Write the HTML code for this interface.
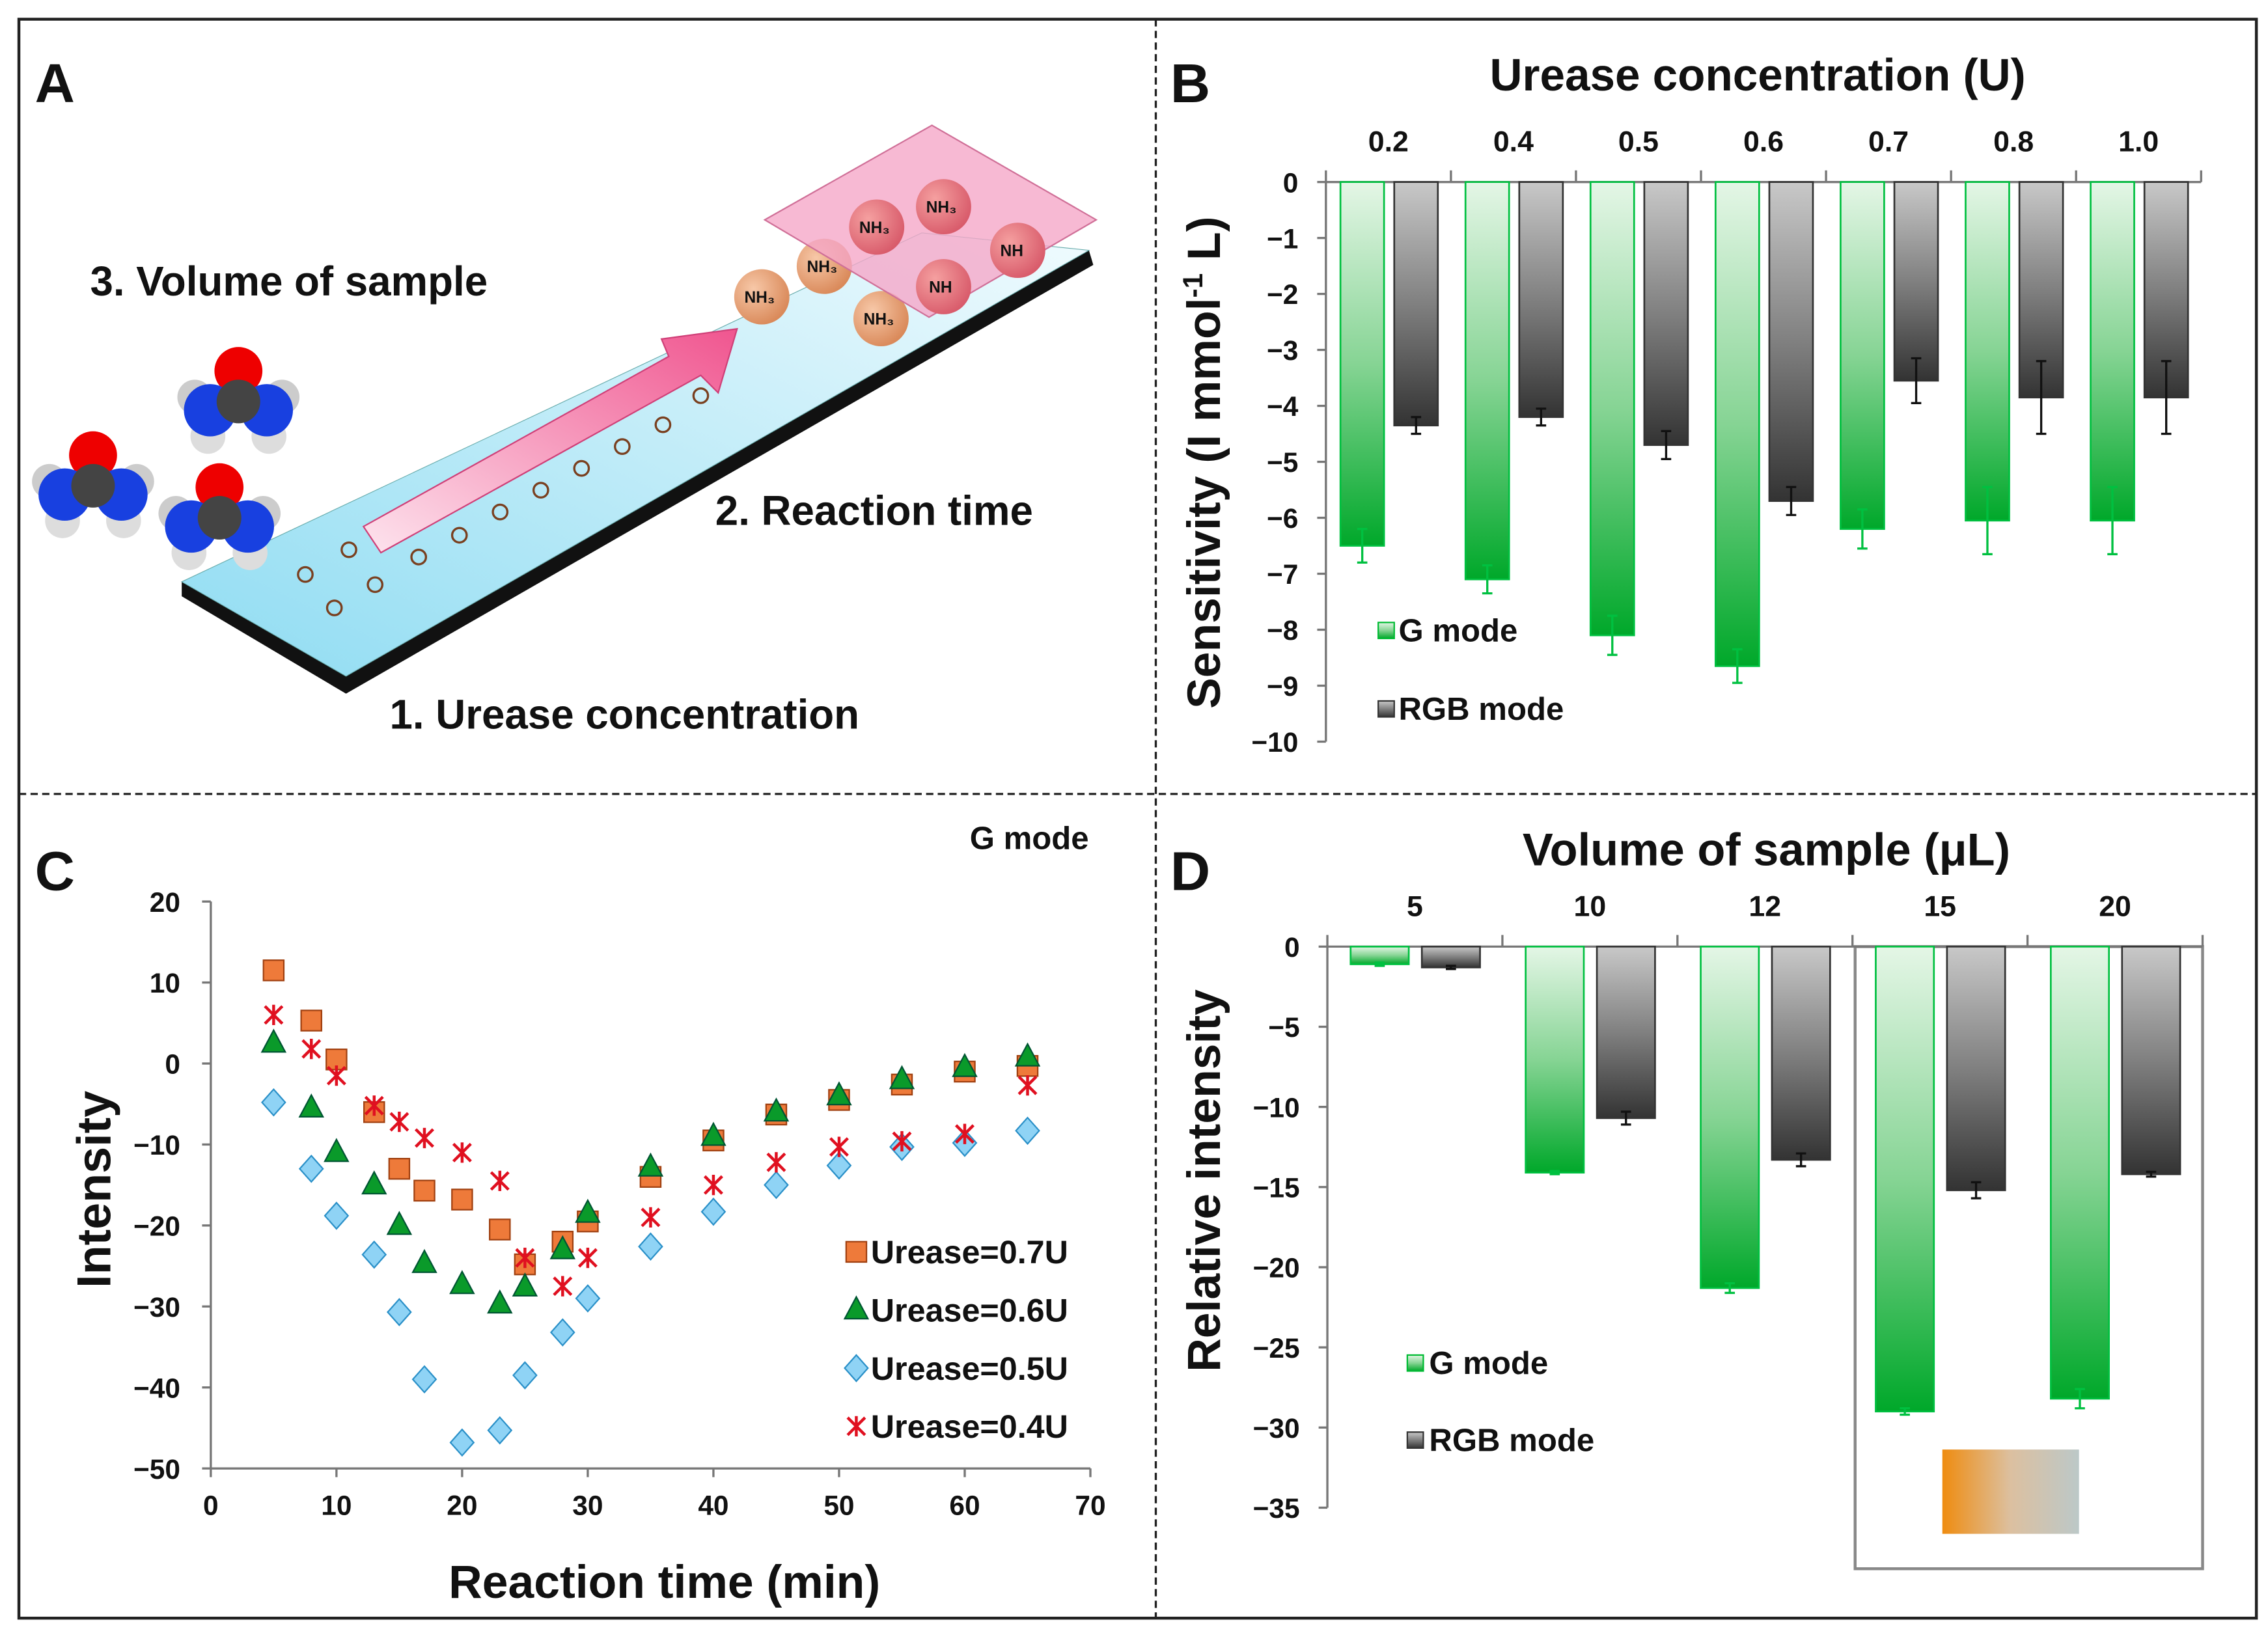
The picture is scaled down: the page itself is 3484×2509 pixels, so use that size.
<!DOCTYPE html>
<html><head><meta charset="utf-8"><style>
html,body{margin:0;padding:0;background:#fff}
svg{display:block}
text{font-family:"Liberation Sans",sans-serif;font-weight:bold;fill:#111}
</style></head><body>
<svg id="fig" width="3484" height="2509" viewBox="0 0 1560 1123" xmlns="http://www.w3.org/2000/svg">
<defs>
<linearGradient id="gG" x1="0" y1="0" x2="0" y2="1"><stop offset="0" stop-color="#e4f6e6"/><stop offset="0.5" stop-color="#86d494"/><stop offset="1" stop-color="#00a82a"/></linearGradient>
<linearGradient id="gK" x1="0" y1="0" x2="0" y2="1"><stop offset="0" stop-color="#c8c8c8"/><stop offset="0.5" stop-color="#808080"/><stop offset="1" stop-color="#333"/></linearGradient>
<linearGradient id="slab" x1="0" y1="1" x2="1" y2="0"><stop offset="0" stop-color="#8fdcf2"/><stop offset="1" stop-color="#f0fbfe"/></linearGradient>
<linearGradient id="arr" x1="0" y1="1" x2="1" y2="0"><stop offset="0" stop-color="#fde4ee"/><stop offset="1" stop-color="#f0558f"/></linearGradient>
<linearGradient id="inset" x1="0" y1="0" x2="1" y2="0"><stop offset="0" stop-color="#ef8c10"/><stop offset="0.5" stop-color="#dcc0a0"/><stop offset="1" stop-color="#bcc8c8"/></linearGradient>
<radialGradient id="ballO" cx="0.35" cy="0.35" r="0.7"><stop offset="0" stop-color="#f7c8a8"/><stop offset="1" stop-color="#d98858"/></radialGradient>
<radialGradient id="ballP" cx="0.35" cy="0.35" r="0.7"><stop offset="0" stop-color="#f5a0a0"/><stop offset="1" stop-color="#d85a6a"/></radialGradient>
</defs>
<rect x="13" y="13" width="1539" height="1100" fill="none" stroke="#222" stroke-width="2"/>
<line x1="795" y1="13" x2="795" y2="1113" stroke="#222" stroke-width="1.5" stroke-dasharray="5,3"/>
<line x1="13" y1="546" x2="1552" y2="546" stroke="#222" stroke-width="1.5" stroke-dasharray="5,3"/>

<!-- Panel A -->
<g>
<text x="24" y="70" font-size="38">A</text>
<polygon points="125,400 238,465 749,172 752,182 238,477 125,410" fill="#111"/>
<polygon points="125,400 634,160 749,172 238,465" fill="url(#slab)" stroke="#6aa" stroke-width="0.5"/>
<g fill="none" stroke="#7a4020" stroke-width="1.5">
<circle cx="210" cy="395" r="5"/><circle cx="240" cy="378" r="5"/><circle cx="230" cy="418" r="5"/><circle cx="258" cy="402" r="5"/>
<circle cx="288" cy="383" r="5"/><circle cx="316" cy="368" r="5"/><circle cx="344" cy="352" r="5"/><circle cx="372" cy="337" r="5"/><circle cx="400" cy="322" r="5"/><circle cx="428" cy="307" r="5"/><circle cx="456" cy="292" r="5"/><circle cx="482" cy="272" r="5"/>
</g>
<polygon points="250,362 460,245 455,233 507,226 494,270 482,258 262,380" fill="url(#arr)" stroke="#d04078" stroke-width="1"/>
<g font-size="11">
<circle cx="524" cy="204" r="19" fill="url(#ballO)"/><text x="512" y="208" font-weight="normal">NH₃</text>
<circle cx="567" cy="183" r="19" fill="url(#ballO)"/><text x="555" y="187" font-weight="normal">NH₃</text>
<circle cx="606" cy="219" r="19" fill="url(#ballO)"/><text x="594" y="223" font-weight="normal">NH₃</text>
</g>
<polygon points="526,151 641,86 754,151 639,218" fill="#f5a8c8" fill-opacity="0.8" stroke="#d07098"/>
<g font-size="11">
<circle cx="603" cy="156" r="19" fill="url(#ballP)"/><text x="591" y="160" font-weight="normal">NH₃</text>
<circle cx="649" cy="142" r="19" fill="url(#ballP)"/><text x="637" y="146" font-weight="normal">NH₃</text>
<circle cx="649" cy="197" r="19" fill="url(#ballP)"/><text x="639" y="201" font-weight="normal">NH</text>
<circle cx="700" cy="172" r="19" fill="url(#ballP)"/><text x="688" y="176" font-weight="normal">NH</text>
</g>
<g>
<g transform="translate(64,340) scale(1.5)"><circle cx="0" cy="-18" r="11" fill="#e00"/><circle cx="-20" cy="-6" r="8" fill="#ccc"/><circle cx="20" cy="-6" r="8" fill="#ccc"/><circle cx="-14" cy="12" r="8" fill="#ddd"/><circle cx="14" cy="12" r="8" fill="#ddd"/><circle cx="-13" cy="0" r="12" fill="#1840e0"/><circle cx="13" cy="0" r="12" fill="#1840e0"/><circle cx="0" cy="-4" r="10" fill="#444"/></g>
<g transform="translate(164,282) scale(1.5)"><circle cx="0" cy="-18" r="11" fill="#e00"/><circle cx="-20" cy="-6" r="8" fill="#ccc"/><circle cx="20" cy="-6" r="8" fill="#ccc"/><circle cx="-14" cy="12" r="8" fill="#ddd"/><circle cx="14" cy="12" r="8" fill="#ddd"/><circle cx="-13" cy="0" r="12" fill="#1840e0"/><circle cx="13" cy="0" r="12" fill="#1840e0"/><circle cx="0" cy="-4" r="10" fill="#444"/></g>
<g transform="translate(151,362) scale(1.5)"><circle cx="0" cy="-18" r="11" fill="#e00"/><circle cx="-20" cy="-6" r="8" fill="#ccc"/><circle cx="20" cy="-6" r="8" fill="#ccc"/><circle cx="-14" cy="12" r="8" fill="#ddd"/><circle cx="14" cy="12" r="8" fill="#ddd"/><circle cx="-13" cy="0" r="12" fill="#1840e0"/><circle cx="13" cy="0" r="12" fill="#1840e0"/><circle cx="0" cy="-4" r="10" fill="#444"/></g>
</g>
<text x="62" y="203" font-size="28.5">3. Volume of sample</text>
<text x="492" y="361" font-size="28.5">2. Reaction time</text>
<text x="268" y="501" font-size="28.5">1. Urease concentration</text>
</g>

<!-- Panel B -->
<g id="pb">
<text x="805" y="70" font-size="38">B</text>
<text x="1209" y="62" font-size="31" text-anchor="middle">Urease concentration (U)</text>
<text transform="translate(839,318) rotate(-90)" font-size="32" text-anchor="middle">Sensitivity (I mmol<tspan font-size="19" dy="-12">-1</tspan><tspan dy="12"> L)</tspan></text>
<rect x="948" y="428" width="11" height="11" fill="url(#gG)" stroke="#0b3"/>
<text x="962" y="441" font-size="22">G mode</text>
<rect x="948" y="482" width="11" height="11" fill="url(#gK)" stroke="#333"/>
<text x="962" y="495" font-size="22">RGB mode</text>
</g>

<!-- Panel C -->
<g id="pc">
<text x="24" y="612" font-size="38">C</text>
<text x="708" y="584" font-size="22" text-anchor="middle">G mode</text>
<text x="457" y="1099" font-size="32" text-anchor="middle">Reaction time (min)</text>
<text transform="translate(76,818) rotate(-90)" font-size="33" text-anchor="middle">Intensity</text>
</g>

<!-- Panel D -->
<g id="pd">
<text x="805" y="612" font-size="38">D</text>
<text x="1215" y="595" font-size="31.5" text-anchor="middle">Volume of sample (μL)</text>
<text transform="translate(839,812) rotate(-90)" font-size="32" text-anchor="middle">Relative intensity</text>
<rect x="1276" y="651" width="239" height="428" fill="none" stroke="#888" stroke-width="2"/>
<rect x="1336" y="997" width="94" height="58" fill="url(#inset)"/>
<rect x="968" y="932" width="11" height="11" fill="url(#gG)" stroke="#0b3"/>
<text x="983" y="945" font-size="22">G mode</text>
<rect x="968" y="985" width="11" height="11" fill="url(#gK)" stroke="#333"/>
<text x="983" y="998" font-size="22">RGB mode</text>
</g>
</svg>
<script>
// Panel B data
const bCategories = ["0.2","0.4","0.5","0.6","0.7","0.8","1.0"];
const bGValues = [-6.5,-7.1,-8.1,-8.65,-6.2,-6.05,-6.05];
const bGErrors = [0.3,0.25,0.35,0.3,0.35,0.6,0.6];
const bRGBValues = [-4.35,-4.2,-4.7,-5.7,-3.55,-3.85,-3.85];
const bRGBErrors = [0.15,0.15,0.25,0.25,0.4,0.65,0.65];
const bTicks = [0,-1,-2,-3,-4,-5,-6,-7,-8,-9,-10];
// Panel C data
const cTimes = [5,8,10,13,15,17,20,23,25,28,30,35,40,45,50,55,60,65];
const c07 = [11.5,5.3,0.5,-6,-13,-15.7,-16.8,-20.5,-24.8,-22,-19.5,-14,-9.5,-6.3,-4.5,-2.6,-1,-0.3];
const c06 = [2.5,-5.5,-11,-15,-20,-24.7,-27.3,-29.7,-27.6,-23,-18.5,-12.8,-9,-6,-4,-2,-0.5,0.8];
const c05 = [-4.8,-13,-18.8,-23.6,-30.7,-39,-46.8,-45.3,-38.5,-33.2,-29,-22.6,-18.3,-15,-12.6,-10.3,-9.8,-8.3];
const c04 = [6,1.8,-1.5,-5.2,-7.2,-9.2,-11,-14.5,-24,-27.5,-24,-19,-15,-12.2,-10.3,-9.6,-8.7,-2.7];
const cXTicks = [0,10,20,30,40,50,60,70];
const cYTicks = [20,10,0,-10,-20,-30,-40,-50];
const cLegend = ["Urease=0.7U","Urease=0.6U","Urease=0.5U","Urease=0.4U"];
// Panel D data
const dCategories = ["5","10","12","15","20"];
const dGValues = [-1.1,-14.1,-21.3,-29,-28.2];
const dGErrors = [0.1,0.1,0.3,0.2,0.6];
const dRGBValues = [-1.3,-10.7,-13.3,-15.2,-14.2];
const dRGBErrors = [0.1,0.4,0.4,0.5,0.15];
const dTicks = [0,-5,-10,-15,-20,-25,-30,-35];

const NS="http://www.w3.org/2000/svg";
function mk(parent,tag,attrs,txt){const e=document.createElementNS(NS,tag);for(const k in attrs)e.setAttribute(k,attrs[k]);if(txt!==undefined)e.textContent=txt;parent.appendChild(e);return e;}

function barChart(g,cats,gv,ge,kv,ke,ticks,opt){
  const y=v=>opt.y0+(v-0)*(opt.y1-opt.y0)/(opt.vmin);
  const n=cats.length, gw=(opt.x1-opt.x0)/n;
  const ax=mk(g,'line',{x1:opt.x0,y1:opt.y0,x2:opt.x0,y2:y(opt.vmin),stroke:'#777','stroke-width':1.5});
  
  
  const xa=mk(g,'line',{x1:opt.x0,y1:opt.y0,x2:opt.x1,y2:opt.y0,stroke:'#777','stroke-width':1.5});
  
  
  ticks.forEach(t=>{
    const tl=mk(g,'line',{x1:opt.x0-6,y1:y(t),x2:opt.x0,y2:y(t),stroke:'#777','stroke-width':1.5});
    
    
    const tt=mk(g,'text',{x:opt.x0-19,y:y(t)+7,'font-size':19,'text-anchor':'end'},t===0?'0':'\u2212'+Math.abs(t));
    
    
  });
  for(let i=0;i<=n;i++){
    const tk=mk(g,'line',{x1:opt.x0+i*gw,y1:opt.y0,x2:opt.x0+i*gw,y2:opt.y0-8,stroke:'#777','stroke-width':1.5});
    
    
  }
  cats.forEach((c,i)=>{
    const gx=opt.x0+i*gw;
    const cl=mk(g,'text',{x:gx+gw/2,y:opt.labelY,'font-size':20,'text-anchor':'middle'},c);
    
    
    [[gv,ge,opt.gOff,'url(#gG)','#00c040','#00c040','bar-g-mode'],[kv,ke,opt.kOff,'url(#gK)','#333','#111','bar-rgb-mode']].forEach(s=>{
      const v=s[0][i], e=s[1][i], bx=gx+s[2];
      const r=mk(g,'rect',{x:bx,y:opt.y0,width:opt.bw,height:y(v)-opt.y0,fill:s[3],stroke:s[4],'stroke-width':1.2});
      
      
      const cx=bx+opt.bw/2;
      const eb=mk(g,'path',{d:`M${cx},${y(v+e)}V${y(v-e)}M${cx-3.5},${y(v+e)}H${cx+3.5}M${cx-3.5},${y(v-e)}H${cx+3.5}`,stroke:s[5],'stroke-width':1.5,fill:'none'});
      
      
    });
  });
}
barChart(document.getElementById('pb'),bCategories,bGValues,bGErrors,bRGBValues,bRGBErrors,bTicks,
  {x0:912,x1:1514,y0:125,y1:510,vmin:-10,gOff:10,kOff:47,bw:30,labelY:104});
barChart(document.getElementById('pd'),dCategories,dGValues,dGErrors,dRGBValues,dRGBErrors,dTicks,
  {x0:913,x1:1515,y0:651,y1:1037,vmin:-35,gOff:16,kOff:65,bw:40,labelY:630});

// Panel C
(function(){
  const g=document.getElementById('pc');
  const X=v=>145+v*(750-145)/70, Y=v=>620+(20-v)*(1010-620)/70;
  const ya=mk(g,'line',{x1:X(0),y1:Y(20),x2:X(0),y2:Y(-50),stroke:'#777','stroke-width':1.5});
  
  
  const xa=mk(g,'line',{x1:X(0),y1:Y(-50),x2:X(70),y2:Y(-50),stroke:'#777','stroke-width':1.5});
  
  
  cYTicks.forEach(t=>{
    const l=mk(g,'line',{x1:X(0)-6,y1:Y(t),x2:X(0),y2:Y(t),stroke:'#777','stroke-width':1.5});
    
    
    const tt=mk(g,'text',{x:X(0)-21,y:Y(t)+7,'font-size':19,'text-anchor':'end'},t<0?'\u2212'+Math.abs(t):String(t));
    
    
  });
  cXTicks.forEach(t=>{
    const l=mk(g,'line',{x1:X(t),y1:Y(-50),x2:X(t),y2:Y(-50)+6,stroke:'#777','stroke-width':1.5});
    
    
    const tt=mk(g,'text',{x:X(t),y:Y(-50)+32,'font-size':19,'text-anchor':'middle'},String(t));
    
    
  });
  function marker(kind,x,y){
    let e;
    if(kind==='sq') e=mk(g,'rect',{x:x-7,y:y-7,width:14,height:14,fill:'#ee7a3a',stroke:'#a04010','stroke-width':1});
    else if(kind==='tri') e=mk(g,'polygon',{points:`${x},${y-9} ${x+8},${y+6} ${x-8},${y+6}`,fill:'#0a9a2a',stroke:'#053','stroke-width':1});
    else if(kind==='dia') e=mk(g,'polygon',{points:`${x},${y-9} ${x+8},${y} ${x},${y+9} ${x-8},${y}`,fill:'#8fd3f5',stroke:'#2a90c8','stroke-width':1});
    else e=mk(g,'path',{d:`M${x-6},${y-6}L${x+6},${y+6}M${x+6},${y-6}L${x-6},${y+6}M${x},${y-7}V${y+7}`,stroke:'#e01020','stroke-width':2,fill:'none'});
    return e;
  }
  const series=[[c07,'sq','point-urease-0.7'],[c06,'tri','point-urease-0.6'],[c05,'dia','point-urease-0.5'],[c04,'star','point-urease-0.4']];
  series.forEach(s=>{
    s[0].forEach((v,i)=>{
      const m=marker(s[1],X(cTimes[i]),Y(v));
      
      
    });
  });
  cLegend.forEach((lab,i)=>{
    const ly=861+i*40;
    const m=marker(series[i][1],589,ly);
    
    
    const t=mk(g,'text',{x:599,y:ly+8,'font-size':22.5},lab);
    
    
  });
})();
</script>
</body></html>
